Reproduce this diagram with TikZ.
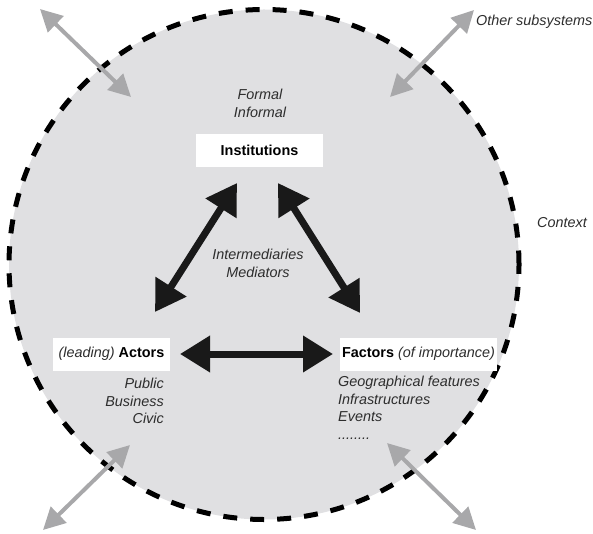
\documentclass[tikz,border=0pt]{standalone}
\usepackage{fontspec}
\setmainfont{Liberation Sans}
\usetikzlibrary{arrows.meta}
\definecolor{bgfill}{RGB}{224,224,226}
\definecolor{arrgray}{RGB}{168,168,170}
\definecolor{txtgray}{RGB}{45,45,45}
\definecolor{arrblack}{RGB}{25,25,25}
\tikzset{
 box/.style={fill=white, inner sep=0pt, minimum height=33pt, font=\fontsize{14.4}{17}\selectfont},
 lbl/.style={text=txtgray, font=\fontsize{14.4}{17.5}\selectfont\itshape, inner sep=0pt},
 bigarrow/.style={arrblack, line width=7pt, {Triangle[length=30pt,width=35pt]}-{Triangle[length=30pt,width=35pt]}},
 grayarrow/.style={arrgray, line width=4pt, {Triangle[length=22pt,width=22pt]}-{Triangle[length=22pt,width=22pt]}},
}
\begin{document}
\begin{tikzpicture}[x=1pt,y=-1pt]
\useasboundingbox (0,0) rectangle (593,534);
\node[circle, fill=bgfill, draw=black, line width=5pt, dash pattern=on 14pt off 13pt, minimum size=510pt, inner sep=0pt] (ctx) at (264,264.5) {};
% boxes
\node[box, minimum width=127pt, font=\fontsize{14.4}{17}\selectfont\bfseries] (inst) at (259.5,150.5) {Institutions};
\node[box, minimum width=117pt] (act) at (111.5,354) {{\itshape\color{txtgray}(leading)} \textbf{Actors}};
\node[box, minimum width=157pt] (fac) at (418.5,354) {\textbf{Factors} {\itshape\color{txtgray}(of importance)}};
% labels
\node[lbl, align=center] (formal) at (260,103.5) {Formal\\Informal};
\node[lbl, align=center] (inter) at (258,263.5) {Intermediaries\\Mediators};
\node[lbl, align=right, anchor=east] (actl) at (164,401) {Public\\Business\\Civic};
\node[lbl, align=left, anchor=north west] (facl) at (338,376) {Geographical features\\Infrastructures\\Events\\........};
\node[lbl, anchor=west] (other) at (476,22) {Other subsystems};
\node[lbl] (context) at (562,223) {Context};
% black arrow endpoints
\coordinate (i1) at (237,183); \coordinate (a1) at (155,312);
\coordinate (i2) at (278,183); \coordinate (f1) at (360,313);
\coordinate (a2) at (180,354); \coordinate (f2) at (333,354);
\draw[bigarrow] (a1) -- (i1);
\draw[bigarrow] (i2) -- (f1);
\draw[bigarrow] (a2) -- (f2);
% gray arrows
\coordinate (g1a) at (40,9); \coordinate (g1b) at (131,97);
\coordinate (g2a) at (390,97); \coordinate (g2b) at (474,10);
\coordinate (g3a) at (43,530); \coordinate (g3b) at (130,445);
\coordinate (g4a) at (387,443); \coordinate (g4b) at (476,530);
\draw[grayarrow] (g1a) -- (g1b);
\draw[grayarrow] (g2a) -- (g2b);
\draw[grayarrow] (g3a) -- (g3b);
\draw[grayarrow] (g4a) -- (g4b);
\end{tikzpicture}
\end{document}
